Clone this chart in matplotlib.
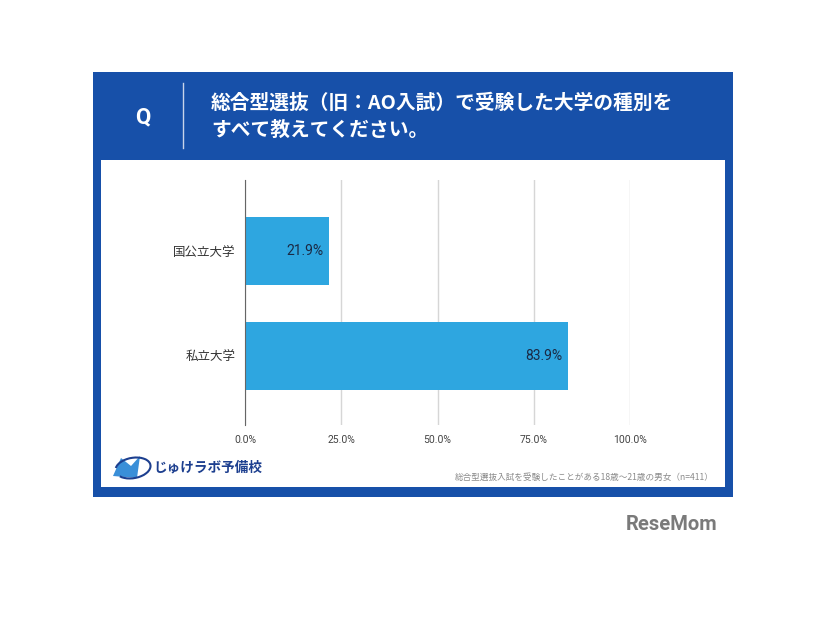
import matplotlib.pyplot as plt
import matplotlib.patches as patches

plt.rcParams['font.family'] = ['Noto Sans CJK JP', 'DejaVu Sans']

# data
categories = ['国公立大学', '私立大学']
values = [21.9, 83.9]
x_ticks = [0, 25, 50, 75, 100]
title_lines = ['総合型選抜（旧：AO入試）で受験した大学の種別を', 'すべて教えてください。']
note = '総合型選抜入試を受験したことがある18歳～21歳の男女（n=411）'

W, H = 826, 620
panel_blue = '#1750A9'
bar_color = '#2EA6E0'


def fx(px):
    return px / W


def fy(py):
    return 1 - py / H


fig = plt.figure(figsize=(W / 100, H / 100), dpi=100)
fig.patch.set_facecolor('white')

# blue frame and white inner panel
fig.patches.append(patches.Rectangle((fx(93), fy(497)), fx(733) - fx(93), fy(72) - fy(497),
                                     transform=fig.transFigure, facecolor=panel_blue,
                                     edgecolor='none', zorder=0))
fig.patches.append(patches.Rectangle((fx(101), fy(487)), fx(725) - fx(101), fy(160) - fy(487),
                                     transform=fig.transFigure, facecolor='white',
                                     edgecolor='none', zorder=1))

# header
fig.text(fx(143), fy(117), 'Q', color='white', fontsize=16, fontweight='bold',
         ha='center', va='center', family=['Roboto', 'DejaVu Sans'])
fig.add_artist(plt.Line2D([fx(183), fx(183)], [fy(83), fy(148)], transform=fig.transFigure,
                          color='#c8d4ea', lw=1))
fig.text(fx(211), fy(103), title_lines[0], color='white', fontsize=14.2, fontweight='bold',
         ha='left', va='center')
fig.text(fx(211), fy(130), title_lines[1], color='white', fontsize=14.2, fontweight='bold',
         ha='left', va='center')

# chart
ax = fig.add_axes([fx(245), fy(425), fx(630) - fx(245), fy(180) - fy(425)])
ax.set_zorder(2)
ax.patch.set_alpha(0)
y = list(range(len(categories)))
ax.barh(y, values, height=0.65, color=bar_color, zorder=3)
ax.set_xlim(0, 100)
ax.set_ylim(1.66, -0.68)
ax.set_yticks(y)
ax.set_yticklabels(categories, fontsize=9, color='#333333')
ax.set_xticks(x_ticks)
ax.set_xticklabels([f'{t:.1f}%' for t in x_ticks], fontsize=7.5, color='#444444',
                   family=['Roboto', 'DejaVu Sans'])
ax.tick_params(length=0, pad=7)
ax.tick_params(axis='y', pad=7)
ax.grid(axis='x', color='#d6d6d6', lw=1, zorder=0)
for s in ['top', 'right', 'bottom']:
    ax.spines[s].set_visible(False)
ax.spines['left'].set_color('#666666')
ax.spines['left'].set_zorder(4)

for yi, v in zip(y, values):
    ax.text(v - 1.5, yi, f'{v}%', ha='right', va='center', fontsize=10,
            color='#1b2a45', family=['Roboto', 'DejaVu Sans'], zorder=5)

# footer logo
fig.patches.append(patches.Polygon([(fx(113), fy(476)), (fx(121), fy(458)), (fx(131), fy(466)),
                                    (fx(140), fy(456)), (fx(137), fy(478))],
                                   closed=True, transform=fig.transFigure,
                                   facecolor='#3a8fd8', edgecolor='none', zorder=2))
fig.add_artist(patches.Arc((fx(133), fy(468)), fx(36), fy(0) - fy(20), angle=20,
                           theta1=200, theta2=520, transform=fig.transFigure,
                           color='#1d3f8f', lw=1.5, zorder=3))
fig.text(fx(153), fy(467), 'じゅけラボ予備校', color='#1d3f8f', fontsize=9.8,
         fontweight='bold', ha='left', va='center')
fig.text(fx(714), fy(477), note, color='#8a8a8a', fontsize=6.2, ha='right', va='center')

fig.text(fx(672), fy(524), 'ReseMom', color='#7a7a7a', fontsize=14.5, fontweight='bold',
         ha='center', va='center', family=['Roboto', 'DejaVu Sans'])

fig.savefig('out.png', dpi=100)
